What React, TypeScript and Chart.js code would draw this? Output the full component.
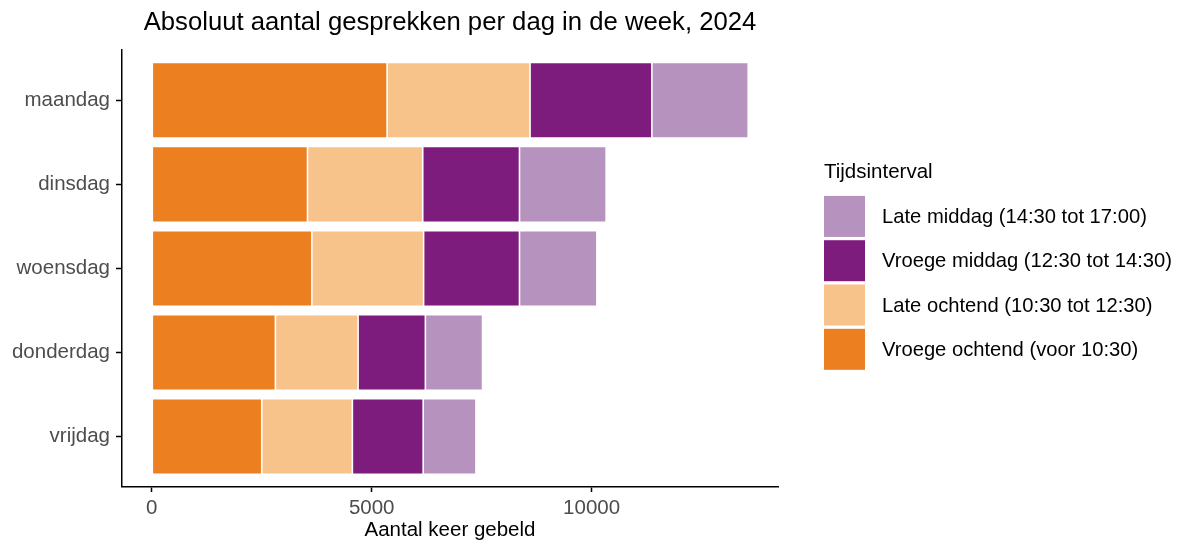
import React, { useEffect, useRef } from "react";
import { Chart, registerables } from "chart.js";

Chart.register(...registerables);

const categories = ["maandag", "dinsdag", "woensdag", "donderdag", "vrijdag"];
const seriesNames = [
  "Vroege ochtend (voor 10:30)",
  "Late ochtend (10:30 tot 12:30)",
  "Vroege middag (12:30 tot 14:30)",
  "Late middag (14:30 tot 17:00)",
];
const vroegeOchtend = [5350, 3540, 3640, 2810, 2500];
const lateOchtend = [3250, 2620, 2540, 1880, 2060];
const vroegeMiddag = [2770, 2200, 2180, 1530, 1610];
const lateMiddag = [2190, 1970, 1760, 1300, 1200];
const seriesColors = ["#EC7F20", "#F8C28B", "#7E1C7D", "#B692BE"];
const xTicks = [0, 5000, 10000];

const FONT = "'Liberation Sans', Arial, Helvetica, sans-serif";

const legendPlugin = {
  id: "ggLegend",
  afterDraw(chart: any) {
    const { ctx, chartArea } = chart;
    const x0 = chartArea.right + 46;
    const mid = (chartArea.top + chartArea.bottom) / 2;
    const box = 41;
    const step = 44.3;
    ctx.save();
    ctx.fillStyle = "#000";
    ctx.textBaseline = "middle";
    ctx.textAlign = "left";
    ctx.font = `20.5px ${FONT}`;
    ctx.fillText("Tijdsinterval", x0, mid - 96);
    const ds = [...chart.data.datasets].reverse();
    const top = mid - 72.5;
    ds.forEach((d: any, i: number) => {
      const y = top + i * step;
      ctx.fillStyle = d.backgroundColor;
      ctx.fillRect(x0, y, box, box);
      ctx.fillStyle = "#000";
      ctx.font = `20.2px ${FONT}`;
      ctx.fillText(d.label, x0 + box + 17, y + box / 2 + 1);
    });
    ctx.restore();
  },
};

export default function App() {
  const ref = useRef<HTMLCanvasElement | null>(null);
  useEffect(() => {
    if (!ref.current) return;
    const all = [vroegeOchtend, lateOchtend, vroegeMiddag, lateMiddag];
    const totals = categories.map((_, i) => all.reduce((s, a) => s + a[i], 0));
    const maxTotal = Math.max(...totals);
    const pad = maxTotal * 0.05;
    const chart = new Chart(ref.current, {
      type: "bar",
      data: {
        datasets: all.map((arr, k) => ({
          label: seriesNames[k],
          data: arr.map((v, i) => ({ x: v, y: i + 1 })),
          backgroundColor: seriesColors[k],
          borderColor: "rgba(255,255,255,0.3)",
          borderWidth: 0.8,
          borderSkipped: false,
          barPercentage: 0.9,
          categoryPercentage: 1,
        })),
      },
      options: {
        indexAxis: "y",
        animation: false,
        responsive: true,
        maintainAspectRatio: false,
        events: [],
        layout: { padding: { left: 0, right: 409, top: 0, bottom: 0 } },
        plugins: {
          legend: { display: false },
          tooltip: { enabled: false },
          title: {
            display: true,
            text: "Absoluut aantal gesprekken per dag in de week, 2024",
            fullSize: false,
            color: "#000",
            font: { family: FONT, size: 25.7, weight: "normal" },
            padding: { top: 7, bottom: 12 },
          },
        },
        scales: {
          x: {
            type: "linear",
            stacked: true,
            min: -pad,
            max: maxTotal + pad,
            afterBuildTicks: (s: any) => {
              s.ticks = xTicks.map((v) => ({ value: v }));
            },
            afterFit: (s: any) => {
              s.height = 55;
            },
            grid: {
              display: true,
              drawOnChartArea: false,
              drawTicks: true,
              tickLength: 5,
              tickColor: "#000",
              tickWidth: 1.5,
            },
            border: { display: true, color: "#000", width: 1.5 },
            ticks: {
              color: "#4D4D4D",
              font: { family: FONT, size: 20.5 },
              padding: 4,
              callback: (v: any) => String(v),
            },
            title: {
              display: true,
              text: "Aantal keer gebeld",
              color: "#000",
              font: { family: FONT, size: 20.5 },
              padding: { top: 0, bottom: -1 },
            },
          },
          y: {
            type: "linear",
            stacked: true,
            reverse: true,
            offset: false,
            min: 0.4,
            max: categories.length + 0.6,
            afterBuildTicks: (s: any) => {
              s.ticks = categories.map((_, i) => ({ value: i + 1 }));
            },
            afterFit: (s: any) => {
              s.width = 122;
            },
            grid: {
              display: true,
              offset: false,
              drawOnChartArea: false,
              drawTicks: true,
              tickLength: 6,
              tickColor: "#000",
              tickWidth: 1.5,
            },
            border: { display: true, color: "#000", width: 1.5 },
            ticks: {
              color: "#4D4D4D",
              font: { family: FONT, size: 20.5 },
              padding: 6,
              autoSkip: false,
              callback: (v: any) => categories[Math.round(v) - 1] ?? "",
            },
          },
        },
      } as any,
      plugins: [legendPlugin],
    });
    return () => chart.destroy();
  }, []);
  return (
    <div style={{ position: "fixed", left: 0, top: 0, width: 1187, height: 542, background: "#fff" }}>
      <canvas ref={ref} />
    </div>
  );
}
